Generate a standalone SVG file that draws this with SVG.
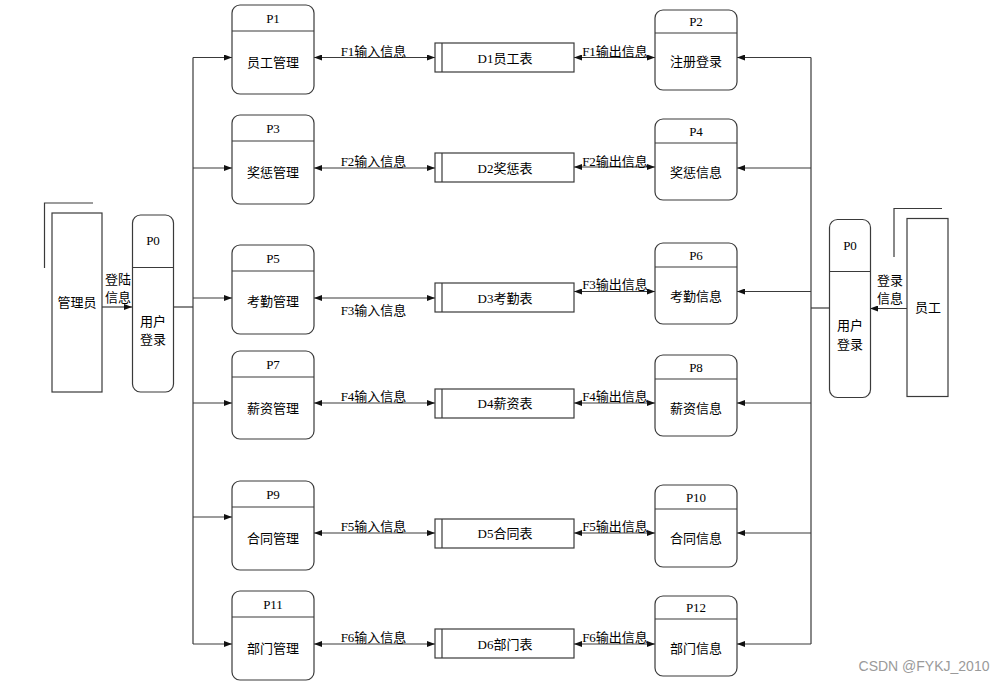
<svg xmlns="http://www.w3.org/2000/svg" width="1005" height="683" viewBox="0 0 1005 683">
<defs>
<style>
.box{fill:#fff;stroke:#3a3a3a;stroke-width:1.2}
.ln{fill:none;stroke:#3a3a3a;stroke-width:1.2}
.t{font-family:"Liberation Serif","Noto Sans CJK SC",serif;font-size:13px;fill:#000;text-anchor:middle;dominant-baseline:central}
.wm{font-family:"Liberation Sans",Arial,sans-serif;font-size:14px;fill:#9a9a9a;text-anchor:middle;dominant-baseline:central}
</style>
<marker id="ah" viewBox="0 0 8 6" refX="8" refY="3" markerWidth="8" markerHeight="6" markerUnits="userSpaceOnUse" orient="auto-start-reverse">
<path d="M0,0 L8,3 L0,6 z" fill="#111"/>
</marker>
</defs>
<rect width="1005" height="683" fill="#fff"/>

<g id="connectors">
<!-- admin to P0 -->
<line class="ln" x1="102" y1="307" x2="132" y2="307" marker-end="url(#ah)"/>
<line class="ln" x1="173" y1="307" x2="193" y2="307"/>
<!-- left bus -->
<line class="ln" x1="193" y1="57.5" x2="193" y2="644"/>
<line class="ln" x1="193" y1="57.5" x2="232" y2="57.5" marker-end="url(#ah)"/>
<line class="ln" x1="193" y1="168" x2="232" y2="168" marker-end="url(#ah)"/>
<line class="ln" x1="193" y1="298" x2="232" y2="298" marker-end="url(#ah)"/>
<line class="ln" x1="193" y1="403" x2="232" y2="403" marker-end="url(#ah)"/>
<line class="ln" x1="193" y1="517" x2="232" y2="517" marker-end="url(#ah)"/>
<line class="ln" x1="193" y1="644" x2="232" y2="644" marker-end="url(#ah)"/>
<!-- left flows to stores -->
<line class="ln" x1="314" y1="57.5" x2="435" y2="57.5" marker-start="url(#ah)" marker-end="url(#ah)"/>
<line class="ln" x1="314" y1="168" x2="435" y2="168" marker-start="url(#ah)" marker-end="url(#ah)"/>
<line class="ln" x1="314" y1="298" x2="435" y2="298" marker-start="url(#ah)" marker-end="url(#ah)"/>
<line class="ln" x1="314" y1="403" x2="435" y2="403" marker-start="url(#ah)" marker-end="url(#ah)"/>
<line class="ln" x1="314" y1="533" x2="435" y2="533" marker-start="url(#ah)" marker-end="url(#ah)"/>
<line class="ln" x1="314" y1="644" x2="435" y2="644" marker-start="url(#ah)" marker-end="url(#ah)"/>
<!-- right flows from stores -->
<line class="ln" x1="574" y1="57.5" x2="655" y2="57.5" marker-start="url(#ah)" marker-end="url(#ah)"/>
<line class="ln" x1="574" y1="167" x2="655" y2="167" marker-start="url(#ah)" marker-end="url(#ah)"/>
<line class="ln" x1="574" y1="291.5" x2="655" y2="291.5" marker-start="url(#ah)" marker-end="url(#ah)"/>
<line class="ln" x1="574" y1="403" x2="655" y2="403" marker-start="url(#ah)" marker-end="url(#ah)"/>
<line class="ln" x1="574" y1="533" x2="655" y2="533" marker-start="url(#ah)" marker-end="url(#ah)"/>
<line class="ln" x1="574" y1="644" x2="655" y2="644" marker-start="url(#ah)" marker-end="url(#ah)"/>
<!-- right bus -->
<line class="ln" x1="811" y1="57.5" x2="811" y2="644"/>
<line class="ln" x1="811" y1="57.5" x2="737" y2="57.5" marker-end="url(#ah)"/>
<line class="ln" x1="811" y1="168" x2="737" y2="168" marker-end="url(#ah)"/>
<line class="ln" x1="811" y1="291.5" x2="737" y2="291.5" marker-end="url(#ah)"/>
<line class="ln" x1="811" y1="403" x2="737" y2="403" marker-end="url(#ah)"/>
<line class="ln" x1="811" y1="533" x2="737" y2="533" marker-end="url(#ah)"/>
<line class="ln" x1="811" y1="644" x2="737" y2="644" marker-end="url(#ah)"/>
<line class="ln" x1="829" y1="308" x2="811" y2="308"/>
<!-- employee to P0 -->
<line class="ln" x1="907" y1="308.5" x2="870" y2="308.5" marker-end="url(#ah)"/>
<!-- labels -->
<text class="t" x="118" y="279">登陆</text>
<text class="t" x="118" y="297">信息</text>
<text class="t" x="890" y="280">登录</text>
<text class="t" x="890" y="298">信息</text>
<text class="t" x="373.5" y="51">F1输入信息</text>
<text class="t" x="615" y="51">F1输出信息</text>
<text class="t" x="373.5" y="161">F2输入信息</text>
<text class="t" x="615" y="161">F2输出信息</text>
<text class="t" x="373.5" y="310">F3输入信息</text>
<text class="t" x="615" y="284">F3输出信息</text>
<text class="t" x="373.5" y="396">F4输入信息</text>
<text class="t" x="615" y="396">F4输出信息</text>
<text class="t" x="373.5" y="526.5">F5输入信息</text>
<text class="t" x="615" y="526.5">F5输出信息</text>
<text class="t" x="373.5" y="637">F6输入信息</text>
<text class="t" x="615" y="637">F6输出信息</text>
</g>

<g id="admin">
<path class="ln" d="M44.5,268 V203 H93"/>
<rect class="box" x="52" y="213" width="50" height="179"/>
<text class="t" x="77" y="302">管理员</text>
</g>
<g id="P0-left">
<rect class="box" x="132.5" y="215" width="41" height="177" rx="8"/>
<line class="ln" x1="132.5" y1="267.5" x2="173.5" y2="267.5"/>
<text class="t" x="153" y="240">P0</text>
<text class="t" x="153" y="321">用户</text>
<text class="t" x="153" y="339">登录</text>
</g>
<g id="employee">
<path class="ln" d="M894,257 V208.5 H942"/>
<rect class="box" x="907" y="218.5" width="41" height="178"/>
<text class="t" x="928" y="307">员工</text>
</g>
<g id="P0-right">
<rect class="box" x="829.5" y="219.5" width="41" height="178" rx="8"/>
<line class="ln" x1="829.5" y1="271.5" x2="870.5" y2="271.5"/>
<text class="t" x="850" y="245">P0</text>
<text class="t" x="850" y="325">用户</text>
<text class="t" x="850" y="344">登录</text>
</g>

<g id="P1"><rect class="box" x="232" y="5" width="82" height="89" rx="8"/><line class="ln" x1="232" y1="31" x2="314" y2="31"/><text class="t" x="273" y="18">P1</text><text class="t" x="273" y="62">员工管理</text></g>
<g id="P3"><rect class="box" x="232" y="115" width="82" height="89" rx="8"/><line class="ln" x1="232" y1="141" x2="314" y2="141"/><text class="t" x="273" y="128">P3</text><text class="t" x="273" y="172">奖惩管理</text></g>
<g id="P5"><rect class="box" x="232" y="245" width="82" height="89" rx="8"/><line class="ln" x1="232" y1="271" x2="314" y2="271"/><text class="t" x="273" y="258">P5</text><text class="t" x="273" y="301">考勤管理</text></g>
<g id="P7"><rect class="box" x="232" y="351" width="82" height="88" rx="8"/><line class="ln" x1="232" y1="377" x2="314" y2="377"/><text class="t" x="273" y="364">P7</text><text class="t" x="273" y="408">薪资管理</text></g>
<g id="P9"><rect class="box" x="232" y="481" width="82" height="89" rx="8"/><line class="ln" x1="232" y1="507" x2="314" y2="507"/><text class="t" x="273" y="494">P9</text><text class="t" x="273" y="538">合同管理</text></g>
<g id="P11"><rect class="box" x="232" y="591" width="82" height="89" rx="8"/><line class="ln" x1="232" y1="617" x2="314" y2="617"/><text class="t" x="273" y="604">P11</text><text class="t" x="273" y="648">部门管理</text></g>

<g id="P2"><rect class="box" x="655" y="10" width="82" height="80" rx="8"/><line class="ln" x1="655" y1="33" x2="737" y2="33"/><text class="t" x="696" y="21.5">P2</text><text class="t" x="696" y="61.5">注册登录</text></g>
<g id="P4"><rect class="box" x="655" y="119" width="82" height="81" rx="8"/><line class="ln" x1="655" y1="143" x2="737" y2="143"/><text class="t" x="696" y="131">P4</text><text class="t" x="696" y="172">奖惩信息</text></g>
<g id="P6"><rect class="box" x="655" y="243" width="82" height="81" rx="8"/><line class="ln" x1="655" y1="267" x2="737" y2="267"/><text class="t" x="696" y="255">P6</text><text class="t" x="696" y="296">考勤信息</text></g>
<g id="P8"><rect class="box" x="655" y="355" width="82" height="81" rx="8"/><line class="ln" x1="655" y1="379" x2="737" y2="379"/><text class="t" x="696" y="367">P8</text><text class="t" x="696" y="408">薪资信息</text></g>
<g id="P10"><rect class="box" x="655" y="485" width="82" height="82" rx="8"/><line class="ln" x1="655" y1="509" x2="737" y2="509"/><text class="t" x="696" y="497">P10</text><text class="t" x="696" y="538">合同信息</text></g>
<g id="P12"><rect class="box" x="655" y="596" width="82" height="80" rx="8"/><line class="ln" x1="655" y1="619" x2="737" y2="619"/><text class="t" x="696" y="607.5">P12</text><text class="t" x="696" y="648">部门信息</text></g>

<g id="D1"><rect class="box" x="435" y="43" width="139" height="29"/><line class="ln" x1="442" y1="43" x2="442" y2="72"/><text class="t" x="505" y="58">D1员工表</text></g>
<g id="D2"><rect class="box" x="435" y="153" width="139" height="29"/><line class="ln" x1="442" y1="153" x2="442" y2="182"/><text class="t" x="505" y="168">D2奖惩表</text></g>
<g id="D3"><rect class="box" x="435" y="283" width="139" height="29"/><line class="ln" x1="442" y1="283" x2="442" y2="312"/><text class="t" x="505" y="298">D3考勤表</text></g>
<g id="D4"><rect class="box" x="435" y="389" width="139" height="29"/><line class="ln" x1="442" y1="389" x2="442" y2="418"/><text class="t" x="505" y="403">D4薪资表</text></g>
<g id="D5"><rect class="box" x="435" y="519" width="139" height="29"/><line class="ln" x1="442" y1="519" x2="442" y2="548"/><text class="t" x="505" y="533">D5合同表</text></g>
<g id="D6"><rect class="box" x="435" y="629" width="139" height="29"/><line class="ln" x1="442" y1="629" x2="442" y2="658"/><text class="t" x="505" y="644">D6部门表</text></g>

<text class="wm" x="924" y="666">CSDN @FYKJ_2010</text>
</svg>
